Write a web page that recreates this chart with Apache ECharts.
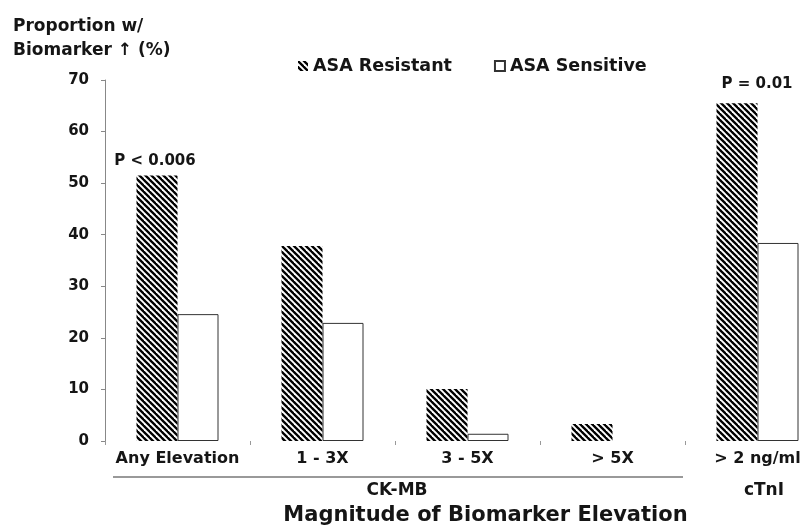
<!DOCTYPE html>
<html>
<head>
<meta charset="utf-8">
<title>Biomarker elevation</title>
<script src="https://cdn.jsdelivr.net/npm/echarts@6/dist/echarts.min.js"></script>
<style>
    html, body { margin: 0; padding: 0; background: #fff; }
    #chart { width: 801px; height: 526px; }
</style>
</head>
<body>
<div id="chart"></div>
<script>
// 数据
const categories = ['Any Elevation', '1 - 3X', '3 - 5X', '> 5X', '> 2 ng/ml']
const resistant = [51.5, 37.8, 10.1, 3.3, 65.5]
const sensitive = [24.6, 22.9, 1.4, 0, 38.4]
const yTicks = [0, 10, 20, 30, 40, 50, 60, 70]
const groupLabels = ['CK-MB', 'cTnI']
const pLabels = ['P < 0.006', 'P = 0.01']

const FONT = 'DejaVu Sans'
const INK = '#151515'

/* 斜线填充 */
function hatch() {
    const s = 6
    const c = document.createElement('canvas')
    c.width = s
    c.height = s
    const ctx = c.getContext('2d')
    ctx.fillStyle = '#fff'
    ctx.fillRect(0, 0, s, s)
    ctx.strokeStyle = '#000'
    ctx.lineWidth = 2.3
    ;[-s, 0, s].forEach((k) => {
        ctx.beginPath()
        ctx.moveTo(-2, -2 + k)
        ctx.lineTo(s + 2, s + 2 + k)
        ctx.stroke()
    })
    return { image: c, repeat: 'repeat' }
}

const myChart = echarts.init(document.getElementById('chart'), null, { renderer: 'canvas' })

const resistantData = resistant.map((v, i) => {
    if (i === 0) {
        return { value: v, label: { show: true, formatter: pLabels[0], distance: 7, offset: [-2, 0] } }
    }
    if (i === 4) {
        return { value: v, label: { show: true, formatter: pLabels[1], distance: 12, offset: [20, 0] } }
    }
    return v
})

const sensitiveData = sensitive.map((v) => (v === 0 ? { value: v, itemStyle: { borderWidth: 0 } } : v))

myChart.setOption({
    animation: false,
    backgroundColor: '#fff',
    textStyle: { fontFamily: FONT, color: INK },
    title: {
        text: 'Proportion w/\nBiomarker \u2191 (%)',
        left: 8,
        top: 10,
        textStyle: { fontFamily: FONT, fontSize: 17, fontWeight: 'bold', color: INK, lineHeight: 24 },
    },
    legend: {
        left: 293,
        top: 52,
        icon: 'rect',
        itemWidth: 10,
        itemHeight: 10,
        itemGap: 42,
        textStyle: { fontFamily: FONT, fontSize: 17.5, fontWeight: 'bold', color: INK },
        data: ['ASA Resistant', 'ASA Sensitive'],
    },
    grid: { left: 105, top: 80, width: 725, height: 361, containLabel: false, outerBoundsMode: 'none' },
    xAxis: {
        type: 'category',
        data: categories,
        axisLine: { show: false },
        axisTick: { show: true, length: 4, lineStyle: { color: '#999' } },
        axisLabel: { interval: 0, margin: 10, fontFamily: FONT, fontSize: 16, fontWeight: 'bold', color: INK },
        name: 'Magnitude of Biomarker Elevation',
        nameLocation: 'middle',
        nameGap: 64,
        nameTextStyle: { fontFamily: FONT, fontSize: 21, fontWeight: 'bold', color: INK, padding: [0, 0, 0, 36] },
    },
    yAxis: {
        type: 'value',
        min: yTicks[0],
        max: yTicks[yTicks.length - 1],
        interval: 10,
        splitLine: { show: false },
        axisLine: { show: true, lineStyle: { color: '#888' } },
        axisTick: { show: true, length: 4, lineStyle: { color: '#888' } },
        axisLabel: { margin: 16, fontFamily: FONT, fontSize: 15, fontWeight: 'bold', color: INK },
    },
    series: [
        {
            name: 'ASA Resistant',
            type: 'bar',
            barWidth: 41,
            barGap: '0%',
            itemStyle: { color: hatch() },
            label: {
                show: false,
                position: 'top',
                fontFamily: FONT,
                fontSize: 15,
                fontWeight: 'bold',
                color: INK,
            },
            data: resistantData,
        },
        {
            name: 'ASA Sensitive',
            type: 'bar',
            barWidth: 41,
            itemStyle: { color: '#fff', borderColor: '#333', borderWidth: 1 },
            data: sensitiveData,
        },
    ],
    graphic: [
        {
            type: 'line',
            shape: { x1: 113, y1: 477, x2: 683, y2: 477 },
            style: { stroke: '#777', lineWidth: 1.5 },
        },
        {
            type: 'text',
            x: 397,
            y: 491,
            style: {
                text: groupLabels[0],
                font: 'bold 17px "DejaVu Sans"',
                fill: INK,
                align: 'center',
                verticalAlign: 'middle',
            },
        },
        {
            type: 'text',
            x: 764,
            y: 491,
            style: {
                text: groupLabels[1],
                font: 'bold 17px "DejaVu Sans"',
                fill: INK,
                align: 'center',
                verticalAlign: 'middle',
            },
        },
    ],
})
</script>
</body>
</html>
